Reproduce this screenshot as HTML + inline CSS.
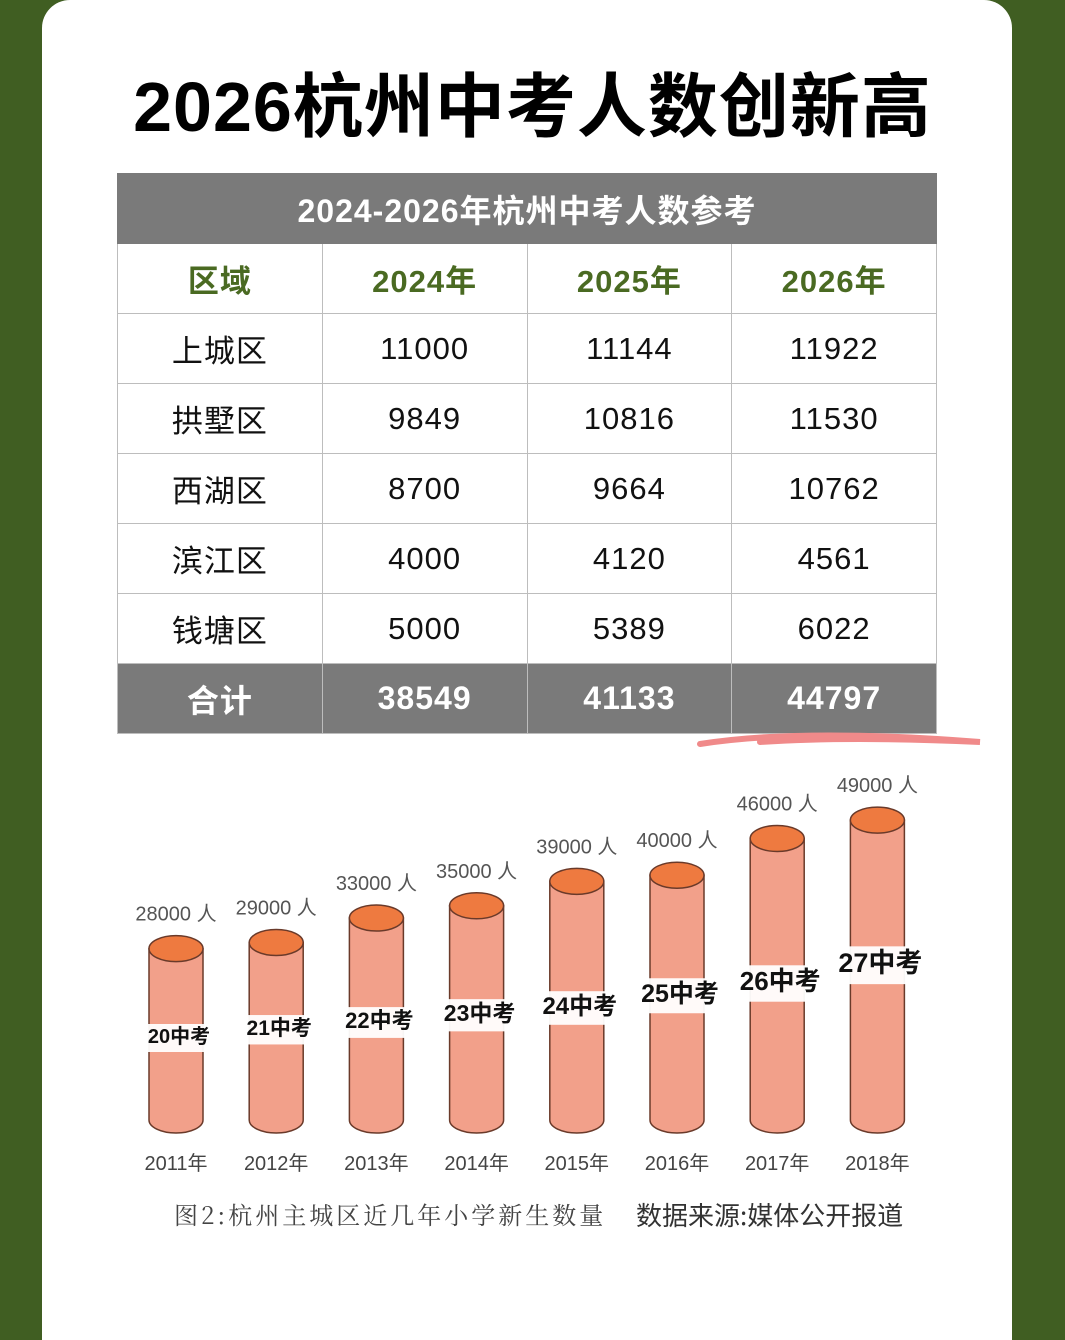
<!DOCTYPE html>
<html><head><meta charset="utf-8"><style>
html{height:1340px;overflow:hidden}
body{margin:0;width:1065px;height:1340px;background:#405e22;position:relative;overflow:hidden;font-family:"Liberation Sans","Noto Sans CJK SC",sans-serif}
.card{position:absolute;left:42px;top:0;width:970px;height:1340px;background:#fff;border-radius:28px 28px 0 0}
.title{position:absolute;left:0;width:1065px;top:60px;text-align:center;font-size:70px;font-weight:bold;color:#000;letter-spacing:1px;line-height:94px}
table{position:absolute;left:117px;top:173px;width:820px;border-collapse:collapse;table-layout:fixed}
td{border:1px solid #bdbdbd;height:69px;text-align:center;font-size:31px;color:#111;padding:0;letter-spacing:1px}
.cap td{background:#7a7a7a;color:#fff;font-weight:bold;font-size:32px;border-color:#7a7a7a}
.hd td{color:#4a6a22;font-weight:bold;font-size:31px}
.tot td{background:#7a7a7a;color:#fff;font-weight:bold;font-size:32px;border-color:#bdbdbd}
</style></head><body>
<div class="card"></div>
<div class="title">2026杭州中考人数创新高</div>
<table>
<tr class="cap"><td colspan="4">2024-2026年杭州中考人数参考</td></tr>
<tr class="hd"><td>区域</td><td>2024年</td><td>2025年</td><td>2026年</td></tr>
<tr><td>上城区</td><td>11000</td><td>11144</td><td>11922</td></tr>
<tr><td>拱墅区</td><td>9849</td><td>10816</td><td>11530</td></tr>
<tr><td>西湖区</td><td>8700</td><td>9664</td><td>10762</td></tr>
<tr><td>滨江区</td><td>4000</td><td>4120</td><td>4561</td></tr>
<tr><td>钱塘区</td><td>5000</td><td>5389</td><td>6022</td></tr>
<tr class="tot"><td>合计</td><td>38549</td><td>41133</td><td>44797</td></tr>
</table>
<svg width="1065" height="1340" style="position:absolute;left:0;top:0">
<path d="M700 744 Q800 728 980 742 Q850 736 760 742" stroke="#f08a8a" stroke-width="6" fill="none" stroke-linecap="round"/>
<g id="bars"></g>
<text x="174" y="1224" font-size="24" letter-spacing="3" fill="#444" font-family="'Noto Serif CJK SC',serif">图2:杭州主城区近几年小学新生数量</text>
<text x="636" y="1225" font-size="26" fill="#333" font-family="'Noto Sans CJK SC',sans-serif">数据来源:媒体公开报道</text>
</svg>
<script>
const years=["2011年","2012年","2013年","2014年","2015年","2016年","2017年","2018年"];
const values=[28000,29000,33000,35000,39000,40000,46000,49000];
const exams=["20中考","21中考","22中考","23中考","24中考","25中考","26中考","27中考"];
const labelY=[1043,1035,1028,1021,1014,1002,990,972];
const fontS=[20,21,22,23,24,25,26,27];
const g=document.getElementById('bars');
const NS='http://www.w3.org/2000/svg';
const base=1120;
function xPos(i){return 176+i*100.2;}
function yPos(v){return base-v*0.00612;}
function mk(t,a){const e=document.createElementNS(NS,t);for(const k in a)e.setAttribute(k,a[k]);g.appendChild(e);return e;}
values.forEach((v,i)=>{
 const cx=xPos(i),ty=yPos(v),rx=27,ry=13;
 let e=mk('path',{d:`M${cx-rx} ${ty} L${cx-rx} ${base} A${rx} ${ry} 0 0 0 ${cx+rx} ${base} L${cx+rx} ${ty} Z`,fill:'#f2a08a',stroke:'#6a3a2a','stroke-width':1.5});
 
 
 e=mk('ellipse',{cx:cx,cy:ty,rx:rx,ry:ry,fill:'#ee7a40',stroke:'#6a3a2a','stroke-width':1.5});
 
 
 const fs=fontS[i];
 e=mk('rect',{x:cx-36-i*2,y:labelY[i]-fs*0.95,width:72+i*4,height:fs*1.4,fill:'#fff',opacity:0.95});
 
 
 e=mk('text',{x:cx+3,y:labelY[i],'text-anchor':'middle','font-size':fs,'font-weight':'bold',fill:'#111'});
 e.textContent=exams[i];
 
 
 e=mk('text',{x:cx,y:ty-28,'text-anchor':'middle','font-size':20,fill:'#555'});
 e.textContent=v+' 人';
 
 
 e=mk('text',{x:cx,y:1170,'text-anchor':'middle','font-size':20,fill:'#444'});
 e.textContent=years[i];
 
 
});
</script>
</body></html>
